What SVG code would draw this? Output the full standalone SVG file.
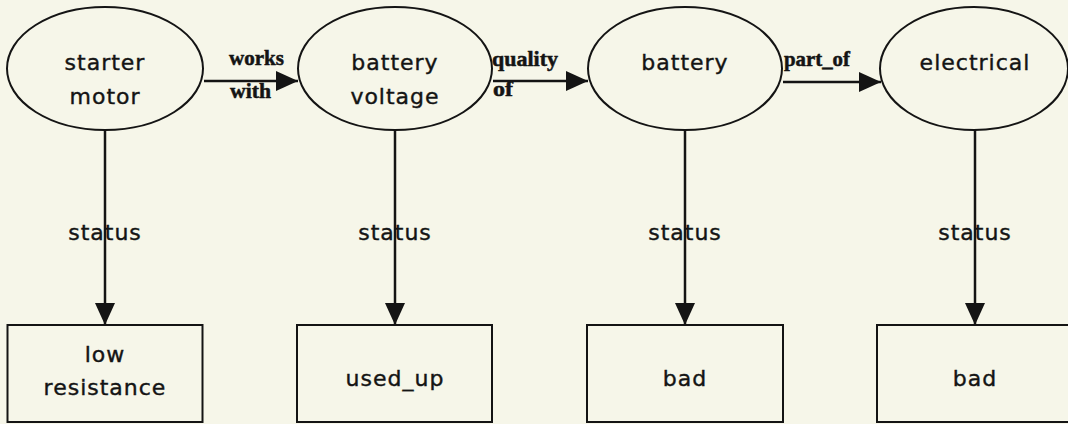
<svg xmlns="http://www.w3.org/2000/svg" width="1068" height="424" viewBox="0 0 1068 424">
<defs>
<marker id="arr" markerUnits="userSpaceOnUse" markerWidth="24" markerHeight="22" refX="22" refY="10" orient="auto">
<path d="M0,0 L22,10 L0,20 Z" fill="#141414"/>
</marker>
<style>
.node{fill:none;stroke:#141414;stroke-width:2}
.t{font-family:"DejaVu Sans",sans-serif;font-size:22px;letter-spacing:1px;fill:#141414;stroke:#141414;stroke-width:0.4;text-anchor:middle}
.e{font-family:"Liberation Serif",serif;font-size:21px;font-weight:bold;fill:#141414;stroke:#141414;stroke-width:0.5}
.c{stroke:#141414;stroke-width:2.5;fill:none;marker-end:url(#arr)}
</style>
</defs>
<rect width="1068" height="424" fill="#f6f6e9"/>
<g id="connectors">
<line class="c" x1="204" y1="81" x2="298" y2="81"/>
<line class="c" x1="493" y1="81" x2="588" y2="81"/>
<line class="c" x1="783" y1="82" x2="881" y2="82"/>
<line class="c" x1="105" y1="130" x2="105" y2="325"/>
<line class="c" x1="395" y1="130" x2="395" y2="325"/>
<line class="c" x1="685" y1="130" x2="685" y2="325"/>
<line class="c" x1="975" y1="130" x2="975" y2="325"/>
<text class="e" x="229" y="65" textLength="55" lengthAdjust="spacingAndGlyphs">works</text>
<text class="e" x="230" y="98" textLength="41" lengthAdjust="spacingAndGlyphs">with</text>
<text class="e" x="492" y="66" textLength="66" lengthAdjust="spacingAndGlyphs">quality</text>
<text class="e" x="493" y="96" textLength="20" lengthAdjust="spacingAndGlyphs">of</text>
<text class="e" x="784" y="66" textLength="66" lengthAdjust="spacingAndGlyphs">part_of</text>
<text class="t" x="105" y="240">status</text>
<text class="t" x="395" y="240">status</text>
<text class="t" x="685" y="240">status</text>
<text class="t" x="975" y="240">status</text>
</g>
<g id="starter_motor">
<ellipse class="node" cx="105" cy="68.5" rx="98" ry="61.5"/>
<text class="t" x="105" y="70">starter</text>
<text class="t" x="105" y="104">motor</text>
</g>
<g id="battery_voltage">
<ellipse class="node" cx="395" cy="68.5" rx="97" ry="61.5"/>
<text class="t" x="395" y="70">battery</text>
<text class="t" x="395" y="104">voltage</text>
</g>
<g id="battery">
<ellipse class="node" cx="685" cy="68.5" rx="97" ry="61.5"/>
<text class="t" x="685" y="70">battery</text>
</g>
<g id="electrical">
<ellipse class="node" cx="974" cy="68.5" rx="94" ry="61.5"/>
<text class="t" x="975" y="70">electrical</text>
</g>
<g id="low_resistance">
<rect class="node" x="7.5" y="325" width="195" height="97"/>
<text class="t" x="105" y="362">low</text>
<text class="t" x="105" y="395">resistance</text>
</g>
<g id="used_up">
<rect class="node" x="297" y="325" width="195" height="97"/>
<text class="t" x="395" y="386">used_up</text>
</g>
<g id="bad1">
<rect class="node" x="587" y="325" width="196" height="97"/>
<text class="t" x="685" y="386">bad</text>
</g>
<g id="bad2">
<rect class="node" x="877" y="325" width="196" height="97"/>
<text class="t" x="975" y="386">bad</text>
</g>
</svg>
